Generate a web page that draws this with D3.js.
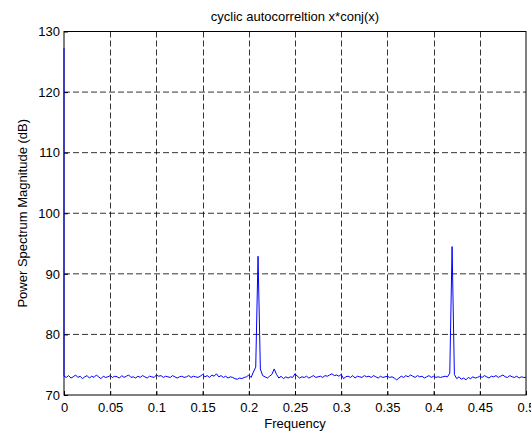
<!DOCTYPE html>
<html>
<head>
<meta charset="utf-8">
<script src="https://cdn.jsdelivr.net/npm/d3@7"></script>
<style>
  body { margin: 0; background: #fff; overflow: hidden; }
  text { font-family: "Liberation Sans", Arial, sans-serif; }
</style>
</head>
<body>
<div id="chart"></div>
<script>
// DC component at frequency 0 (drops straight down to the noise floor)
const dcPeak = 127.3;
// frequency step between samples
const freqStep = 0.0025;
// power spectrum magnitude (dB), one value per step from 0 to 0.5
const magnitude = [
  73.1, 72.9, 73.2, 72.8, 73.0, 73.3, 72.9, 73.1, 72.7, 73.0, 73.2, 72.8, 73.1, 72.9, 73.3, 73.0, 72.7, 73.1, 72.9, 73.0,
  73.2, 72.9, 73.1, 73.0, 72.8, 73.2, 72.9, 73.1, 73.3, 72.9, 73.0, 72.8, 73.1, 72.9, 73.2, 73.0, 72.8, 73.1, 73.0, 72.9,
  73.3, 73.1, 73.2, 72.9, 73.1, 73.0, 72.9, 73.2, 73.0, 72.8, 73.0, 73.1, 72.9, 73.0, 73.2, 72.9, 73.1, 73.0, 72.9, 73.1,
  73.4, 73.0, 73.2, 72.9, 73.3, 73.1, 73.5, 73.0, 73.2, 72.9, 73.1, 72.8, 73.0, 72.9, 72.7, 72.6, 72.8, 72.7, 72.9, 73.0,
  73.3, 72.9, 73.8, 74.6, 92.9, 74.3, 73.2, 73.0, 72.8, 73.1, 73.4, 74.3, 73.4, 72.8, 73.1, 72.7, 73.0, 72.8, 73.0, 72.9,
  73.5, 73.1, 72.8, 73.0, 72.9, 73.1, 72.8, 73.0, 73.2, 72.9, 73.0, 73.1, 72.9, 73.2, 73.1, 73.3, 73.5, 73.2, 73.3, 73.1,
  73.4, 72.7, 73.0, 73.1, 72.9, 73.2, 72.8, 73.1, 73.0, 72.9, 73.2, 73.0, 73.1, 72.9, 73.2, 73.0, 72.8, 73.1, 72.9, 73.0,
  73.1, 72.9, 73.0, 72.8, 72.5, 72.8, 73.1, 72.9, 73.2, 73.0, 73.3, 73.1, 72.9, 73.2, 73.0, 73.1, 72.8, 73.0, 73.2, 72.9,
  73.1, 72.9, 73.0, 72.9, 73.0, 73.1, 73.0, 73.6, 94.5, 73.4, 72.7, 73.0, 72.6, 72.8, 72.5, 72.9, 72.7, 73.0, 72.8, 72.9,
  73.1, 72.9, 73.2, 73.0, 72.8, 73.1, 73.0, 73.2, 72.9, 73.1, 73.3, 73.0, 72.9, 73.2, 73.0, 72.9, 73.1, 72.8, 73.0, 72.9, 72.9
];
const xTicks = [0, 0.05, 0.1, 0.15, 0.2, 0.25, 0.3, 0.35, 0.4, 0.45, 0.5];
const yTicks = [70, 80, 90, 100, 110, 120, 130];

const W = 531, H = 432;
const m = { top: 31.5, right: 5, bottom: 37, left: 64 };

const svg = d3.select("#chart").append("svg").attr("width", W).attr("height", H).style("display", "block");

const x = d3.scaleLinear().domain([0, 0.5]).range([m.left, W - m.right]);
const y = d3.scaleLinear().domain([70, 130]).range([H - m.bottom, m.top]);

const data = [{ f: 0, v: dcPeak }].concat(magnitude.map((v, i) => ({ f: i * freqStep, v })));

// grid
const grid = svg.append("g").attr("stroke", "#000").attr("stroke-dasharray", "6,3").attr("stroke-width", 0.8);
grid.selectAll("line.gx").data(xTicks.slice(1, -1)).join("line")
  .attr("x1", d => Math.round(x(d)) + 0.5).attr("x2", d => Math.round(x(d)) + 0.5)
  .attr("y1", m.top).attr("y2", H - m.bottom);
grid.selectAll("line.gy").data(yTicks.slice(1, -1)).join("line")
  .attr("y1", d => y(d)).attr("y2", d => y(d))
  .attr("x1", m.left).attr("x2", W - m.right);

// axes (ticks inside, like the original)
svg.append("g").attr("transform", `translate(0,${H - m.bottom})`)
  .call(d3.axisBottom(x).tickValues(xTicks).tickFormat(d3.format("")).tickSizeInner(-4).tickSizeOuter(0).tickPadding(8))
  .call(g => g.select(".domain").remove())
  .selectAll("text").attr("font-size", 13).attr("fill", "#000");
svg.append("g").attr("transform", `translate(${m.left},0)`)
  .call(d3.axisLeft(y).tickValues(yTicks).tickSizeInner(-4).tickSizeOuter(0).tickPadding(4))
  .call(g => g.select(".domain").remove())
  .selectAll("text").attr("font-size", 13).attr("fill", "#000");

svg.append("rect").attr("x", m.left).attr("y", m.top)
  .attr("width", W - m.left - m.right).attr("height", H - m.top - m.bottom)
  .attr("fill", "none").attr("stroke", "#000").attr("stroke-width", 1);

// signal, drawn over the frame so the DC line shows on the left edge
svg.append("defs").append("clipPath").attr("id", "clip")
  .append("rect").attr("x", m.left - 1).attr("y", m.top)
  .attr("width", W - m.left - m.right + 2).attr("height", H - m.top - m.bottom);

svg.append("path").datum(data)
  .attr("clip-path", "url(#clip)")
  .attr("fill", "none").attr("stroke", "#0000ff").attr("stroke-width", 1)
  .attr("d", d3.line().x(d => x(d.f)).y(d => y(d.v)));

// labels
svg.append("text").attr("x", (m.left + W - m.right) / 2).attr("y", 21)
  .attr("text-anchor", "middle").attr("font-size", 13).text("cyclic autocorreltion x*conj(x)");
svg.append("text").attr("x", (m.left + W - m.right) / 2).attr("y", 428)
  .attr("text-anchor", "middle").attr("font-size", 13).text("Frequency");
svg.append("text").attr("transform", `translate(27,${(m.top + H - m.bottom) / 2}) rotate(-90)`)
  .attr("text-anchor", "middle").attr("font-size", 13).text("Power Spectrum Magnitude (dB)");
</script>
</body>
</html>
